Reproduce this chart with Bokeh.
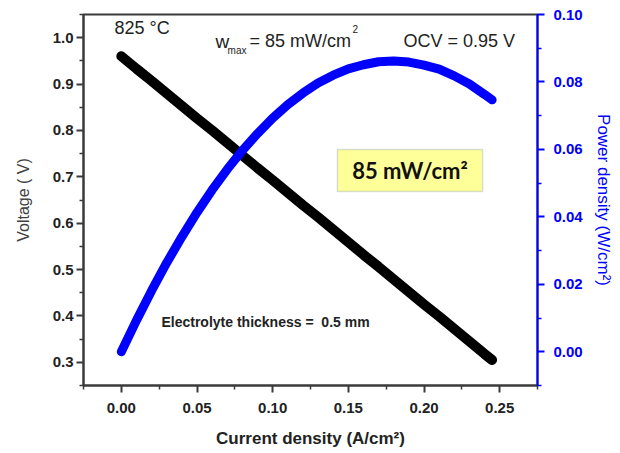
from bokeh.plotting import figure
from bokeh.models import Range1d, LinearAxis, FixedTicker, Label, BoxAnnotation
from bokeh.embed import file_html
from bokeh.resources import INLINE

# ---- data ----
current = [0.0, 0.01, 0.02, 0.03, 0.04, 0.05, 0.06, 0.07, 0.08, 0.09, 0.10, 0.11, 0.12,
           0.13, 0.14, 0.15, 0.16, 0.17, 0.18, 0.19, 0.20, 0.21, 0.22, 0.23, 0.24, 0.245]
voltage = [0.960, 0.933, 0.907, 0.880, 0.853, 0.826, 0.800, 0.773, 0.746, 0.719, 0.693,
           0.666, 0.639, 0.613, 0.586, 0.559, 0.532, 0.506, 0.479, 0.452, 0.425, 0.399,
           0.372, 0.345, 0.318, 0.305]
power = [0.0, 0.0093, 0.0181, 0.0264, 0.0341, 0.0413, 0.0480, 0.0541, 0.0597, 0.0647,
         0.0693, 0.0733, 0.0767, 0.0797, 0.0820, 0.0839, 0.0851, 0.0860, 0.0862, 0.0859,
         0.0850, 0.0838, 0.0818, 0.0794, 0.0763, 0.0747]

x_ticks = [0.0, 0.05, 0.1, 0.15, 0.2, 0.25]
x_tick_labels = ["0.00", "0.05", "0.10", "0.15", "0.20", "0.25"]
x_minor = [-0.025, 0.025, 0.075, 0.125, 0.175, 0.225, 0.275]
v_ticks = [0.3, 0.4, 0.5, 0.6, 0.7, 0.8, 0.9, 1.0]
v_tick_labels = ["0.3", "0.4", "0.5", "0.6", "0.7", "0.8", "0.9", "1.0"]
v_minor = [0.25, 0.35, 0.45, 0.55, 0.65, 0.75, 0.85, 0.95, 1.05]
p_ticks = [0.0, 0.02, 0.04, 0.06, 0.08, 0.1]
p_tick_labels = ["0.00", "0.02", "0.04", "0.06", "0.08", "0.10"]
p_minor = [-0.01, 0.01, 0.03, 0.05, 0.07, 0.09]

AX = "#3a3a3a"
BLUE = "#0000ff"
FONT = "Liberation Sans"

p = figure(width=620, height=453, output_backend="svg", toolbar_location=None,
           x_range=Range1d(-0.025, 0.275), y_range=Range1d(0.25, 1.05),
           min_border_left=83, min_border_right=83, min_border_top=14, min_border_bottom=68)
p.extra_y_ranges = {"power": Range1d(-0.01, 0.10)}
p.xgrid.visible = False
p.ygrid.visible = False
p.outline_line_color = AX
p.outline_line_width = 2
p.background_fill_color = "white"
p.border_fill_color = "white"

def style(ax, color, ticks, minor, labels, label_color, label_size, label_style, standoff, tl_standoff):
    ax.ticker = FixedTicker(ticks=ticks, minor_ticks=minor)
    ax.major_label_overrides = {t: l for t, l in zip(ticks, labels)}
    ax.axis_line_color = color
    ax.axis_line_width = 2
    ax.major_tick_line_color = color
    ax.minor_tick_line_color = color
    ax.major_tick_line_width = 2
    ax.minor_tick_line_width = 1.5
    ax.major_tick_in = 0
    ax.major_tick_out = 7
    ax.minor_tick_in = 0
    ax.minor_tick_out = 4
    ax.major_label_text_font = FONT
    ax.major_label_text_font_style = "bold"
    ax.major_label_text_font_size = "15px"
    ax.major_label_text_color = color if color == BLUE else "#222222"
    ax.major_label_standoff = tl_standoff
    ax.axis_label_text_font = FONT
    ax.axis_label_text_color = label_color
    ax.axis_label_text_font_size = label_size
    ax.axis_label_text_font_style = label_style
    ax.axis_label_standoff = standoff

style(p.xaxis[0], AX, x_ticks, x_minor, x_tick_labels, "#222222", "17px", "bold", 13, 10)
p.xaxis[0].axis_label = "Current density (A/cm²)"
style(p.yaxis[0], AX, v_ticks, v_minor, v_tick_labels, "#404040", "16px", "normal", 18, 3)
p.yaxis[0].axis_label = "Voltage ( V)"

right = LinearAxis(y_range_name="power", axis_label="Power density (W/cm²)")
style(right, BLUE, p_ticks, p_minor, p_tick_labels, BLUE, "17px", "normal", 8, 9)
p.add_layout(right, "right")

p.line(current, voltage, line_width=10, line_color="black", line_cap="round")
p.line(current, power, y_range_name="power", line_width=9, line_color=BLUE, line_cap="round")

def lab(x, y, text, size, style="normal", font=FONT, color="#222222", align="left", baseline="alphabetic"):
    p.add_layout(Label(x=x, y=y, text=text, text_font=font, text_font_size=size,
                       text_font_style=style, text_color=color, text_align=align,
                       text_baseline=baseline))

lab(-0.0045, 1.0200, "825 °C", "18px")
lab(0.0622, 0.9925, "w", "19px")
lab(0.0702, 0.9724, "max", "10px")
lab(0.0847, 0.9925, "= 85 mW/cm", "18px")
lab(0.1528, 1.0177, "2", "10px")
lab(0.1865, 0.9925, "OCV = 0.95 V", "18px")
lab(0.0265, 0.3860, "Electrolyte thickness =\u00a0 0.5 mm", "14px", style="bold")

p.add_layout(BoxAnnotation(left=0.1428, right=0.2387, bottom=0.6683, top=0.7589,
                           fill_color="#ffff99", fill_alpha=1.0,
                           line_color="#7f93b5", line_width=1.5))
lab(0.19075, 0.7136, "85 mW/cm²", "22px", style="bold", font="Lato", color="#111111",
    align="center", baseline="middle")

open("out.html", "w").write(file_html(p, INLINE))
